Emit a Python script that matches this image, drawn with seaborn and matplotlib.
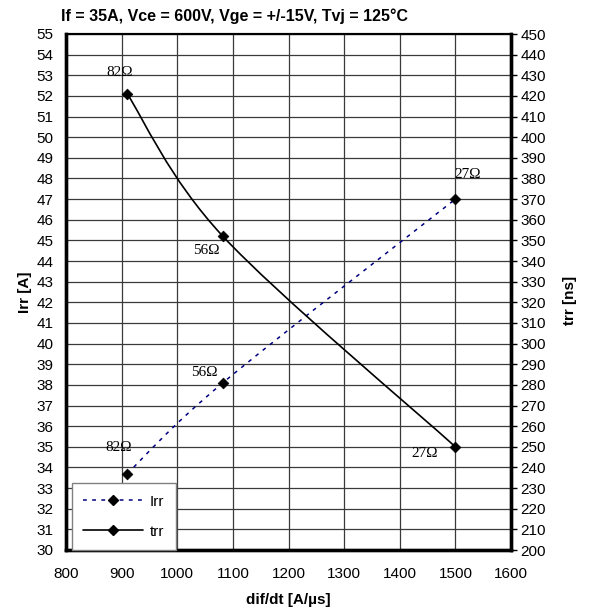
import numpy as np
import matplotlib
matplotlib.use("Agg")
import matplotlib.pyplot as plt
from matplotlib.path import Path
from matplotlib.patches import PathPatch
from matplotlib.lines import Line2D
import seaborn as sns
import pandas as pd

# Recovery characteristics vs. di/dt for three gate resistors
didt = [910, 1082, 1500]          # dif/dt [A/µs]
irr = [33.7, 38.1, 47.0]          # peak reverse recovery current [A]
trr = [421, 352, 250]             # reverse recovery time [ns]
rg_labels = ["82Ω", "56Ω", "27Ω"]

x_ticks = list(range(800, 1601, 100))
irr_ticks = list(range(30, 56, 1))
trr_ticks = list(range(200, 451, 10))

title = "If = 35A, Vce = 600V, Vge = +/-15V, Tvj = 125°C"

sns.set_style("white", {"text.color": "black", "axes.labelcolor": "black",
                        "xtick.color": "black", "ytick.color": "black"})
plt.rcParams["font.family"] = ["Liberation Sans", "DejaVu Sans"]

df = pd.DataFrame({"didt": didt, "irr": irr, "trr": trr, "rg": rg_labels})


def smooth_path(xs, ys):
    """Cubic Bezier through the points (Catmull-Rom style, tension 1/6)."""
    pts = np.column_stack([xs, ys]).astype(float)
    n = len(pts)
    verts = [pts[0]]
    codes = [Path.MOVETO]
    for i in range(n - 1):
        p0 = pts[i - 1] if i > 0 else pts[i]
        p1, p2 = pts[i], pts[i + 1]
        p3 = pts[i + 2] if i + 2 < n else pts[i + 1]
        c1 = p1 + (p2 - p0) / 6.0
        c2 = p2 - (p3 - p1) / 6.0
        verts += [c1, c2, p2]
        codes += [Path.CURVE4] * 3
    return Path(verts, codes)


fig = plt.figure(figsize=(5.92, 6.11), dpi=100)
ax = fig.add_axes([66 / 592, 1 - 550 / 611, 445 / 592, 516 / 611])
ax2 = ax.twinx()

ax.set_xlim(800, 1600)
ax.set_ylim(30, 55)
ax2.set_ylim(200, 450)
ax.set_xticks(x_ticks)
ax.set_yticks(irr_ticks)
ax2.set_yticks(trr_ticks)

ax.grid(True, color="#3a3a3a", linewidth=0.9)
ax.set_axisbelow(True)

irr_color = "#000080"
ax.add_patch(PathPatch(smooth_path(df["didt"], df["irr"]), fill=False,
                       edgecolor=irr_color, linewidth=1.1,
                       linestyle=(0, (2.5, 3.5)), zorder=3))
ax2.add_patch(PathPatch(smooth_path(df["didt"], df["trr"]), fill=False,
                        edgecolor="black", linewidth=1.2, zorder=3))

sns.scatterplot(data=df, x="didt", y="irr", ax=ax, marker="D", s=30,
                color="black", edgecolor="black", linewidth=0.5, zorder=4,
                legend=False)
sns.scatterplot(data=df, x="didt", y="trr", ax=ax2, marker="D", s=30,
                color="black", edgecolor="black", linewidth=0.5, zorder=4,
                legend=False)

# Gate resistor annotations (offsets in pixels)
serif = ["Liberation Serif", "DejaVu Serif"]
irr_offsets = [(-9, 26), (-19, 10), (12, 25)]
trr_offsets = [(-8, 21), (-17, -14), (-31, -7)]
for xv, yv, lab, off in zip(didt, irr, rg_labels, irr_offsets):
    ax.annotate(lab, (xv, yv), xytext=off, textcoords="offset pixels",
                ha="center", va="center", fontsize=11, family=serif,
                color="black")
for xv, yv, lab, off in zip(didt, trr, rg_labels, trr_offsets):
    ax2.annotate(lab, (xv, yv), xytext=off, textcoords="offset pixels",
                 ha="center", va="center", fontsize=11, family=serif,
                 color="black")

ax.set_xlabel("dif/dt [A/µs]", fontsize=11, fontweight="bold")
ax.set_ylabel("Irr [A]", fontsize=11, fontweight="bold")
ax2.set_ylabel("trr [ns]", fontsize=11, fontweight="bold", rotation=90)
ax.xaxis.set_label_coords(0.5, -(593 - 550) / 516)
ax.yaxis.set_label_coords((32 - 66) / 445, 0.5)
ax2.yaxis.set_label_coords((563 - 66) / 445, 0.484)

ax.tick_params(axis="x", labelsize=11, length=0, pad=12)
ax.tick_params(axis="y", labelsize=11, length=0, pad=9)
ax2.tick_params(axis="y", labelsize=11, length=4, width=1, direction="out",
                pad=3, color="black")

for a in (ax, ax2):
    for side in ("left", "right", "bottom"):
        a.spines[side].set_linewidth(2.4)
        a.spines[side].set_color("black")
    a.spines["top"].set_linewidth(1.5)
    a.spines["top"].set_color("black")

handles = [
    Line2D([], [], color=irr_color, linestyle=(0, (2.5, 3.5)), linewidth=1.1,
           marker="D", markersize=5.2, markerfacecolor="black",
           markeredgecolor="black"),
    Line2D([], [], color="black", linewidth=1.2, marker="D", markersize=5.2,
           markerfacecolor="black", markeredgecolor="black"),
]
leg = ax2.legend(handles, ["Irr", "trr"], loc="lower left",
                 bbox_to_anchor=(6 / 445, 0.0), fontsize=11, frameon=True,
                 fancybox=False, edgecolor="#808080", framealpha=1,
                 handlelength=3.9, borderpad=0.75, labelspacing=1.05,
                 handletextpad=0.45, borderaxespad=0.0)
leg.get_frame().set_linewidth(1.0)

fig.text(61 / 592, 1 - 16 / 611, title, ha="left", va="center",
         fontsize=11.5, fontweight="bold", color="black")

fig.savefig("out.png", dpi=100)
